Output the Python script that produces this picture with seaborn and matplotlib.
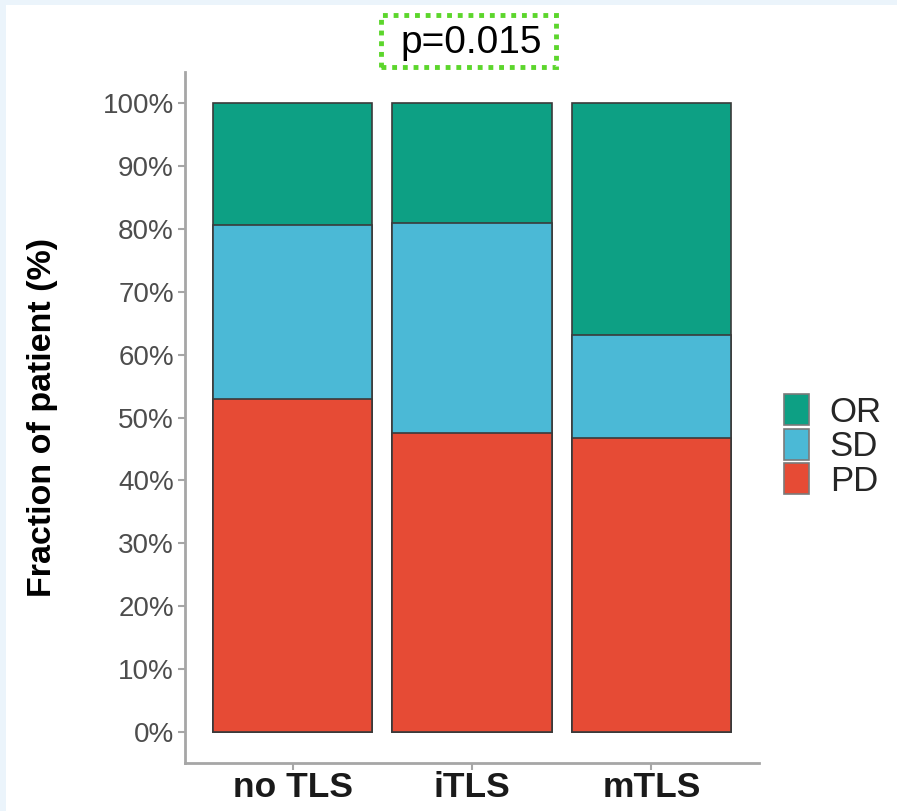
import numpy as np
import pandas as pd
import seaborn as sns
import matplotlib.pyplot as plt
from matplotlib.patches import Patch, Rectangle
from matplotlib.ticker import PercentFormatter

# data (fractions per group)
groups = ["no TLS", "iTLS", "mTLS"]
pd_frac = [0.529, 0.476, 0.467]
sd_frac = [0.278, 0.333, 0.164]
or_frac = [0.193, 0.191, 0.369]
responses = ["OR", "SD", "PD"]
colors = {"OR": "#0DA084", "SD": "#4BB9D6", "PD": "#E64B35"}
p_label = "p=0.015"

sns.set_theme(style="white")
plt.rcParams["font.family"] = ["Liberation Sans", "DejaVu Sans"]

df = pd.DataFrame({"group": groups, "PD": pd_frac, "SD": sd_frac, "OR": or_frac})
df["top_PD"] = df["PD"]
df["top_SD"] = df["PD"] + df["SD"]
df["top_OR"] = df["PD"] + df["SD"] + df["OR"]

W, H = 897, 811
fig = plt.figure(figsize=(W / 100, H / 100), dpi=100)
fig.patch.set_facecolor("#EBF4FB")
fig.patches.append(Rectangle((6 / W, 0), 1, (H - 5) / H, transform=fig.transFigure,
                             facecolor="white", edgecolor="none", zorder=-10))

ax = fig.add_axes([185 / W, (H - 763) / H, (759 - 185) / W, (763 - 72) / H])
ax.set_facecolor("white")

# stacked bars: draw cumulative tops from the largest down
for r in ["OR", "SD", "PD"]:
    sns.barplot(data=df, x="group", y="top_" + r, color=colors[r], saturation=1,
                width=0.89, edgecolor="#3a3a3a", linewidth=1.2, ax=ax)

ax.set_xlim(-0.6, 2.6)
ax.set_ylim(-0.05, 1.05)
ax.set_yticks(np.arange(0, 1.01, 0.1))
ax.yaxis.set_major_formatter(PercentFormatter(1.0, decimals=0))
ax.set_xlabel("")
ax.set_ylabel("Fraction of patient (%)", fontsize=24.5, fontweight="bold", color="black", labelpad=32)

for s in ["top", "right"]:
    ax.spines[s].set_visible(False)
for s in ["left", "bottom"]:
    ax.spines[s].set_color("#A6A6A6")
    ax.spines[s].set_linewidth(2)

ax.tick_params(axis="y", labelsize=20, colors="#A6A6A6", labelcolor="#4D4D4D",
               length=5, width=1.5, left=True, pad=3)
ax.tick_params(axis="x", labelsize=25.5, colors="#A6A6A6", labelcolor="#1a1a1a",
               length=5, width=1.5, bottom=True, pad=1)
for t in ax.get_xticklabels():
    t.set_fontweight("bold")

handles = [Patch(facecolor=colors[r], edgecolor="#7a7a7a", linewidth=1.2, label=r) for r in responses]
leg = fig.legend(handles=handles, loc="center left", bbox_to_anchor=(770 / W, 1 - 446 / H),
                 frameon=False, fontsize=25, handlelength=0.72, handleheight=1.0,
                 labelspacing=0.0, handletextpad=0.6, borderaxespad=0)

# p-value label with dotted green frame
fig.text(471 / W, 1 - 43 / H, p_label, ha="center", va="center", fontsize=28, color="black")
fig.patches.append(Rectangle((381 / W, 1 - 67 / H), (556 - 381) / W, (67 - 15) / H,
                             transform=fig.transFigure, facecolor="none", edgecolor="#5CD62C",
                             linewidth=3.5, linestyle=(0, (1, 1.2))))

fig.savefig("out.png", dpi=100)
